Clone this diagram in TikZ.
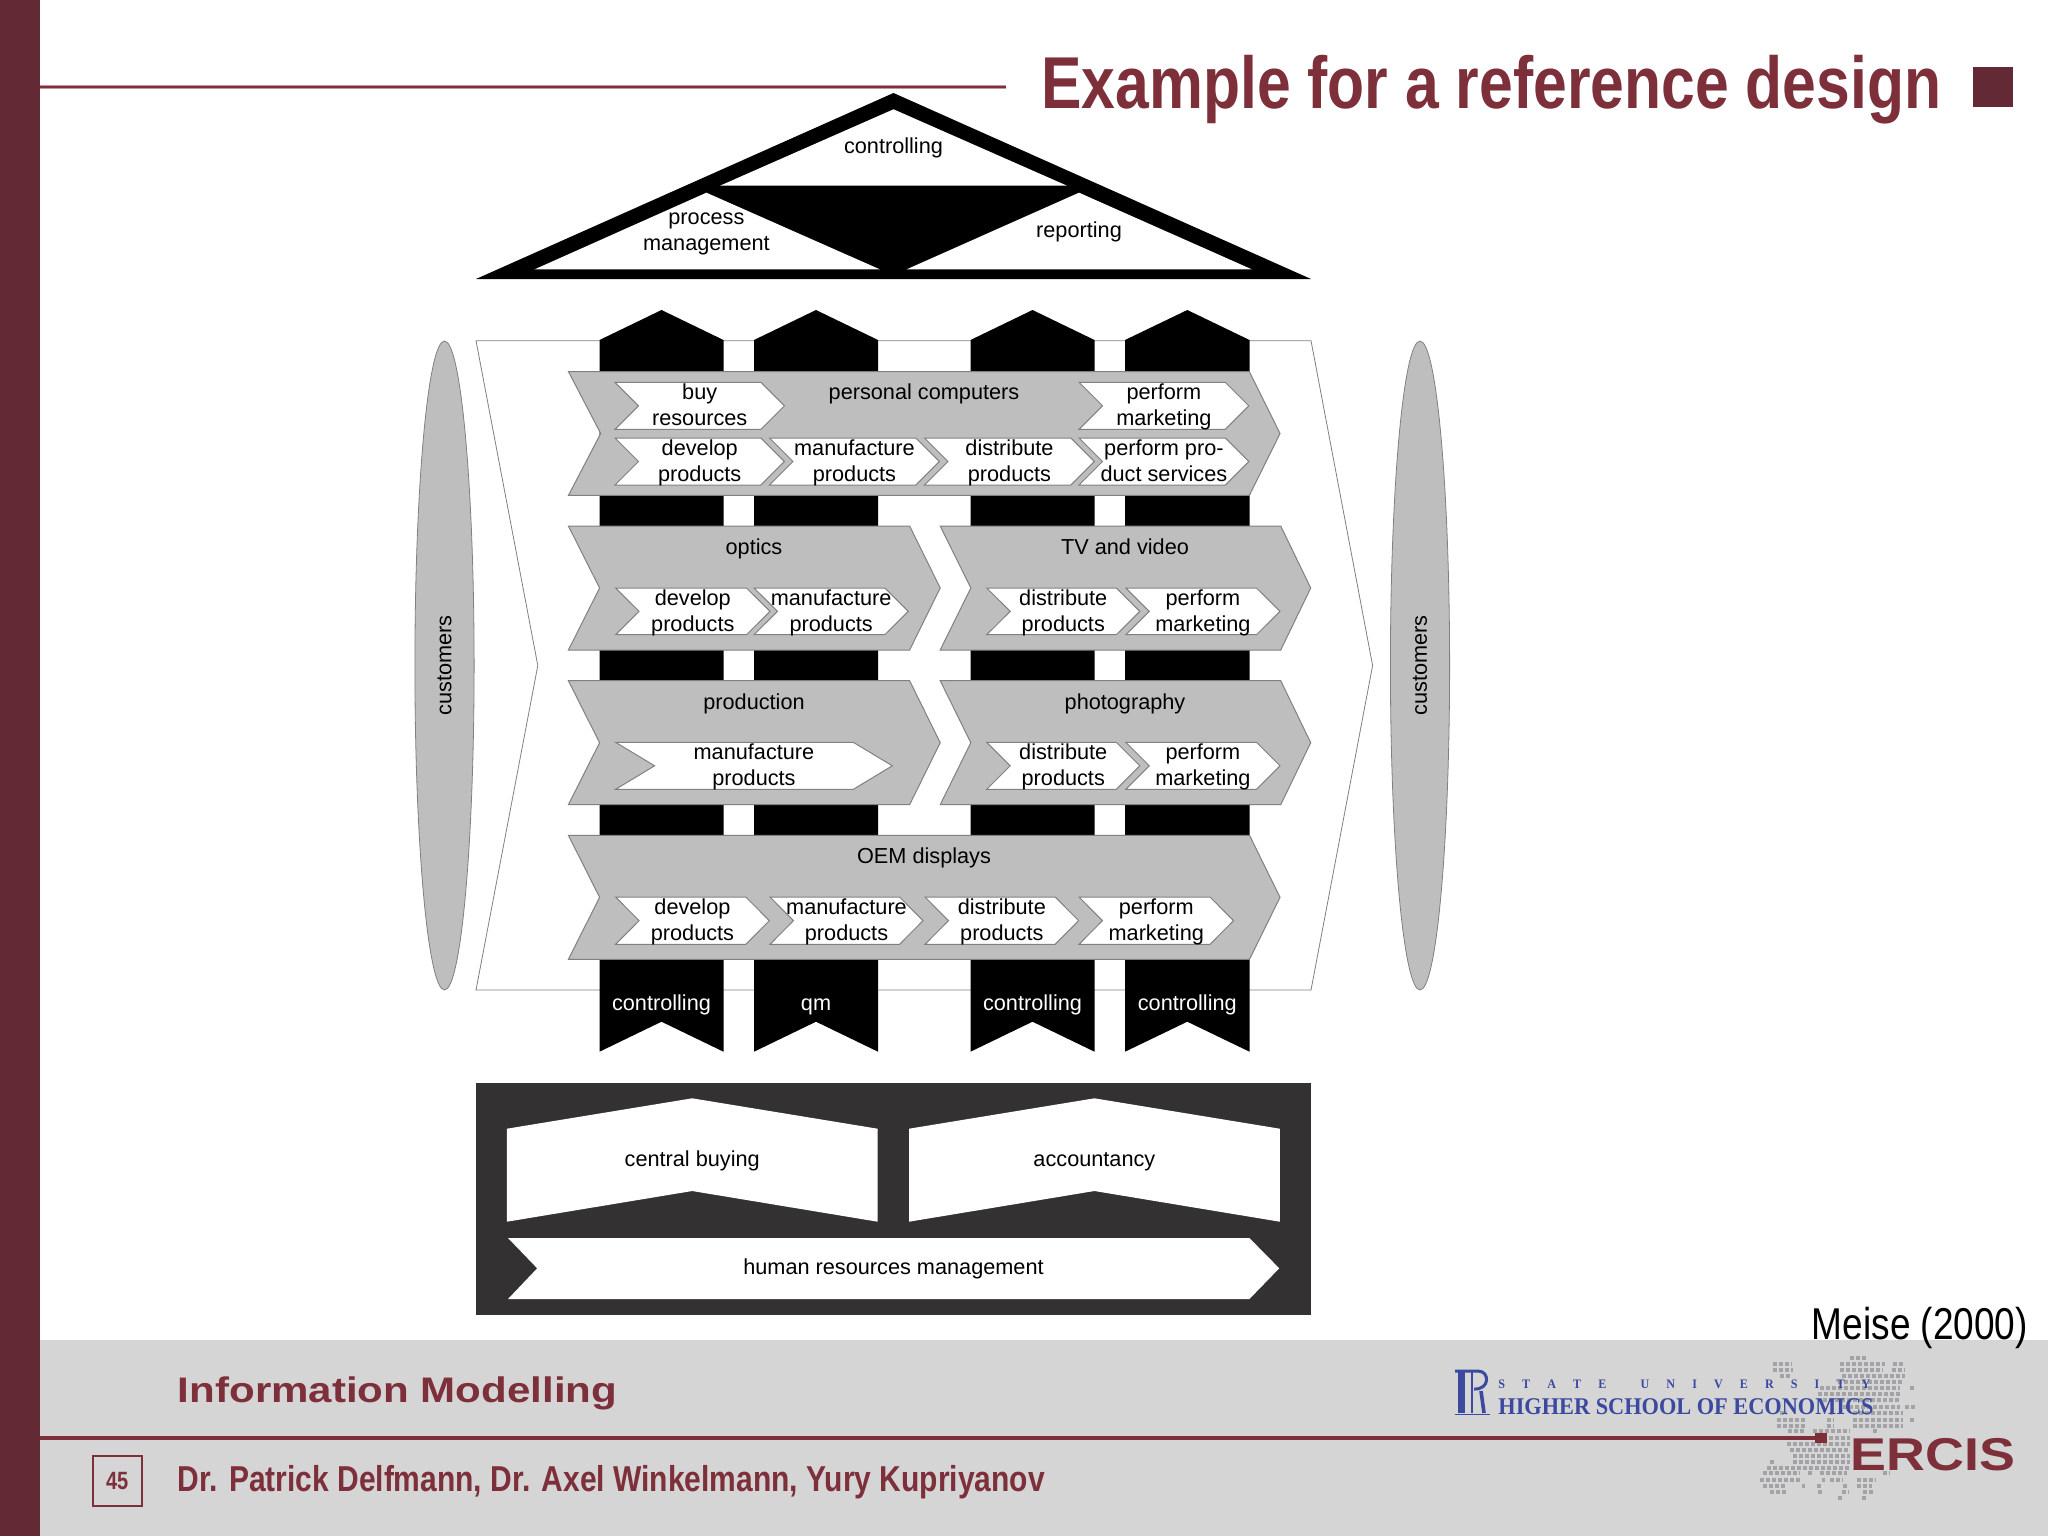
\documentclass[tikz,border=0pt]{standalone}
\usepackage{fontspec}
\setmainfont{Liberation Sans}
\newfontface\titlefont[FakeStretch=0.825]{Liberation Sans Bold}
\newfontface\modfont[FakeStretch=1.185]{Liberation Sans Bold}
\newfontface\authfont[FakeStretch=0.833]{Liberation Sans Bold}
\newfontface\numfont[FakeStretch=0.8]{Liberation Sans Bold}
\newfontface\meisefont[FakeStretch=0.83]{Liberation Sans}
\newfontface\ercisfont[FakeStretch=1.17]{Liberation Sans Bold}
\newfontface\hsefont[FakeStretch=0.93]{Liberation Serif Bold}
\usetikzlibrary{shapes.geometric}
\definecolor{wine}{HTML}{7D2F3A}
\definecolor{bar}{HTML}{632A35}
\definecolor{foot}{HTML}{D6D5D6}
\definecolor{band}{HTML}{BFBEBF}
\definecolor{edge}{HTML}{808080}
\definecolor{dark}{HTML}{333132}
\definecolor{navy}{HTML}{3B4A9E}
\definecolor{mapdot}{HTML}{A3A2A4}
\tikzset{
  lbl/.style={inner sep=0pt,align=center,font=\fontsize{10.85}{13}\selectfont,text height=8.65pt,text depth=1.85pt},
  lbltwo/.style={lbl,text height=21.65pt,text depth=1.85pt},
  wlbl/.style={lbl,text=white},
  bandshape/.style={fill=band,draw=edge,line width=0.5pt,line join=miter},
  stepshape/.style={fill=white,draw=edge,line width=0.5pt,line join=miter},
  pillar/.style={fill=black},
  maprow/.style={draw=mapdot,line width=2pt,dash pattern=on 2pt off 1pt},
  hseline/.style={draw=navy,line cap=butt},
}
% wide band: left, right-shoulder, tip, notch, top, bottom
\newcommand{\bandpoly}[6]{%
  \pgfmathsetmacro{\bm}{(#5+#6)/2}
  \draw[bandshape] (#1,#5) -- (#2,#5) -- (#3,\bm) -- (#2,#6) -- (#1,#6) -- (#4,\bm) -- cycle;
}
% step: [notch depth] name, left, tip, top, bottom, text
\newcommand{\stp}[7][23.5]{%
  \pgfmathsetmacro{\sm}{(#5+#6)/2}
  \pgfmathsetmacro{\sc}{(#3+#4)/2}
  \pgfmathsetmacro{\sn}{#3+#1}
  \pgfmathsetmacro{\sr}{#4-#1}
  \draw[stepshape] (#3,#5) -- (\sr,#5) -- (#4,\sm) -- (\sr,#6) -- (#3,#6) -- (\sn,\sm) -- cycle;
  \node[lbltwo] (#2) at (\sc,\sm) {#7};
}
\begin{document}
\begin{tikzpicture}[x=0.5pt,y=-0.5pt]
\useasboundingbox (0,0) rectangle (2048,1536);
\fill[white] (0,0) rectangle (2048,1536);
% footer
\fill[foot] (40,1340) rectangle (2048,1536);
\fill[bar] (0,0) rectangle (40,1536);
% header rule and title
\draw[wine!50!white,line width=2.2pt] (40,87) -- (1006,87);
\draw[wine,line width=1.2pt] (40,87) -- (1006,87);
\node[inner sep=0pt,anchor=base west,text=wine,font=\titlefont\fontsize{36.75}{40}\selectfont] (title) at (1041,108.3) {Example for a reference design};
\fill[bar] (1972.5,66.7) rectangle (2013.4,107.3);
% roof
\fill[black] (893.5,93) -- (1311,279) -- (476,279) -- cycle;
\fill[white] (893.5,109.3) -- (1067,185.7) -- (720,185.7) -- cycle;
\fill[white] (706.4,192.7) -- (879.7,269.3) -- (534.7,269.3) -- cycle;
\fill[white] (1079,192.7) -- (1251.7,269.3) -- (906.7,269.3) -- cycle;
\node[lbl] (roofc) at (893.5,147) {controlling};
\node[lbltwo] (roofp) at (706.4,231) {process\\management};
\node[lbl] (roofr) at (1079,231) {reporting};
% background chevron
\draw[fill=white,draw=edge,line width=0.4pt] (476,340.7) -- (1311,340.7) -- (1372.6,665.5) -- (1311,990) -- (476,990) -- (537.8,665.5) -- cycle;
% customers
\node[ellipse,minimum width=29.6pt,minimum height=324.5pt,inner sep=0pt,fill=band,draw=edge,line width=0.4pt] (custL) at (444.5,665.5) {};
\node[ellipse,minimum width=29.6pt,minimum height=324.5pt,inner sep=0pt,fill=band,draw=edge,line width=0.4pt] (custR) at (1420,665.5) {};
\node[lbl,rotate=90] (custLt) at (444.5,665.5) {customers};
\node[lbl,rotate=90] (custRt) at (1420,665.5) {customers};
% pillars
\foreach \l/\r/\c in {599.5/723.5/661.5,754/878/816,970.5/1094.5/1032.5,1125/1249.5/1187.3}{
  \fill[pillar] (\l,340) -- (\c,310) -- (\r,340) -- (\r,1051.7) -- (\c,1021.7) -- (\l,1051.7) -- cycle;
}
\node[wlbl] (pil1) at (661.5,1004) {controlling};
\node[wlbl] (pil2) at (816,1004) {qm};
\node[wlbl] (pil3) at (1032.5,1004) {controlling};
\node[wlbl] (pil4) at (1187.3,1004) {controlling};
% personal computers
\bandpoly{568.5}{1249.4}{1280}{600.7}{371.7}{495.3}
\node[lbl] (pc) at (924,393) {personal computers};
\stp{pc1}{615}{784.4}{382.3}{429.3}{buy\\resources}
\stp{pc2}{1079}{1248.8}{382.3}{429.3}{perform\\marketing}
\stp{pc3}{615}{784.4}{438}{485}{develop\\products}
\stp{pc4}{769.5}{939.4}{438}{485}{manufacture\\products}
\stp{pc5}{924.5}{1094.4}{438}{485}{distribute\\products}
\stp{pc6}{1079}{1248.8}{438}{485}{perform pro-\\duct services}
% optics
\bandpoly{568.4}{909.6}{940.2}{599.6}{526}{650}
\node[lbl] (opt) at (754,547.7) {optics};
\stp{opt1}{615.6}{770}{588}{634.7}{develop\\products}
\stp{opt2}{754}{908.3}{588}{634.7}{manufacture\\products}
% TV
\bandpoly{940.2}{1280.7}{1310.7}{970.8}{526}{650}
\node[lbl] (tv) at (1125,547.7) {TV and video};
\stp{tv1}{986.7}{1139.8}{588}{634.7}{distribute\\products}
\stp{tv2}{1125.8}{1280}{588}{634.7}{perform\\marketing}
% production
\bandpoly{568.4}{909.6}{940.2}{599.6}{680.7}{804.7}
\node[lbl] (prod) at (754,702.7) {production};
\stp[39]{prod1}{615.6}{892.3}{742.3}{789.3}{manufacture\\products}
% photography
\bandpoly{940.2}{1280.7}{1310.7}{970.8}{680.7}{804.7}
\node[lbl] (photo) at (1125,702.7) {photography};
\stp{ph1}{986.7}{1139.8}{742.3}{789.3}{distribute\\products}
\stp{ph2}{1125.8}{1280}{742.3}{789.3}{perform\\marketing}
% OEM
\bandpoly{568.4}{1249.5}{1280}{599.6}{835.3}{959.3}
\node[lbl] (oem) at (924,856.7) {OEM displays};
\stp{oem1}{615.6}{769.3}{897}{944.3}{develop\\products}
\stp{oem2}{770}{923}{897}{944.3}{manufacture\\products}
\stp{oem3}{925}{1078.6}{897}{944.3}{distribute\\products}
\stp{oem4}{1079}{1233.5}{897}{944.3}{perform\\marketing}
% support box
\fill[dark] (476,1082.7) rectangle (1311,1315);
\fill[white] (506.9,1128.7) -- (692.2,1098.3) -- (877.6,1128.7) -- (877.6,1221.7) -- (692.2,1191) -- (506.9,1221.7) -- cycle;
\fill[white] (909,1128.7) -- (1094.4,1098.3) -- (1279.8,1128.7) -- (1279.8,1221.7) -- (1094.4,1191) -- (909,1221.7) -- cycle;
\fill[white] (508,1238) -- (1249.4,1238) -- (1279.2,1268.3) -- (1249.4,1299) -- (508,1299) -- (537.2,1268.3) -- cycle;
\node[lbl] (cb) at (692.2,1159.5) {central buying};
\node[lbl] (acc) at (1094.4,1159.5) {accountancy};
\node[lbl] (hr) at (893.5,1268) {human resources management};
% source
\node[inner sep=0pt,anchor=base west,font=\meisefont\fontsize{22.3}{26}\selectfont] (src) at (1811.5,1339) {Meise (2000)};
% map dots
\foreach \yz/\a/\b in {40/300/350,58/70/125,58/270/405,58/430/460,75/70/130,75/270/400,75/425/465,92/90/120,92/275/465,110/265/460,130/210/450,130/480/495,148/205/450,165/220/450,185/280/450,185/465/495,205/90/110,205/240/250,205/310/460,225/80/165,225/230/250,225/310/460,225/480/495,242/80/165,242/230/250,242/310/460,258/115/165,258/190/300,258/370/380,278/200/300,296/110/300,314/120/300,332/130/300,350/60/75,350/130/300,368/50/300,385/40/150,385/175/190,385/210/290,385/400/420,404/30/150,404/215/225,404/240/280,404/320/375,422/40/110,422/155/165,422/200/215,422/280/295,422/320/365,440/60/110,440/205/215,440/275/295,440/340/370,460/265/280,460/335/350}{
  \draw[maprow] ({1750+\a/3},{1345+\yz/3}) -- ({1750+\b/3},{1345+\yz/3});
}
% footer rule
\draw[wine,line width=2.2pt] (40,1437.7) -- (1820,1437.7);
\fill[wine] (1815,1433) rectangle (1826.5,1442.7);
\node[inner sep=0pt,anchor=base west,text=wine,font=\modfont\fontsize{17.75}{20}\selectfont] (mod) at (177.5,1402.7) {Information Modelling};
\node[inner sep=0pt,anchor=base west,text=wine,font=\authfont\fontsize{18}{20}\selectfont] (auth) at (177.5,1491.7) {Dr. Patrick Delfmann, Dr. Axel Winkelmann, Yury Kupriyanov};
\node[draw=wine,line width=1pt,minimum width=24.6pt,minimum height=25pt,inner sep=0pt,text=wine,font=\numfont\fontsize{12.5}{14}\selectfont] (pg) at (117.2,1480.7) {45};
% HSE logo
\draw[hseline,line width=3.5pt] (1461,1370) -- (1461,1413);
\draw[hseline,line width=1.5pt] (1455,1371) -- (1478,1371) .. controls (1490,1371) and (1490,1390) .. (1474,1389);
\draw[hseline,line width=1.1pt] (1472,1372) -- (1472,1413);
\draw[hseline,line width=1.8pt] (1481,1391) -- (1484,1413);
\draw[hseline,line width=0.8pt] (1455,1414.5) -- (1490,1414.5);
\node[inner sep=0pt,anchor=base west,text=navy,font=\hsefont\fontsize{12}{14}\selectfont] (hse) at (1498,1414) {HIGHER SCHOOL OF ECONOMICS};
\node[inner sep=0pt,anchor=base west,text=navy,font=\hsefont\fontsize{6.5}{8}\selectfont] (hsetop) at (1498,1388) {\hbox to 186pt{S\hfill T\hfill A\hfill T\hfill E\hfill\hfill U\hfill N\hfill I\hfill V\hfill E\hfill R\hfill S\hfill I\hfill T\hfill Y}};
\node[inner sep=0pt,anchor=base west,text=wine,font=\ercisfont\fontsize{23}{26}\selectfont] (ercis) at (1850.5,1470) {ERCIS};
\end{tikzpicture}
\end{document}
